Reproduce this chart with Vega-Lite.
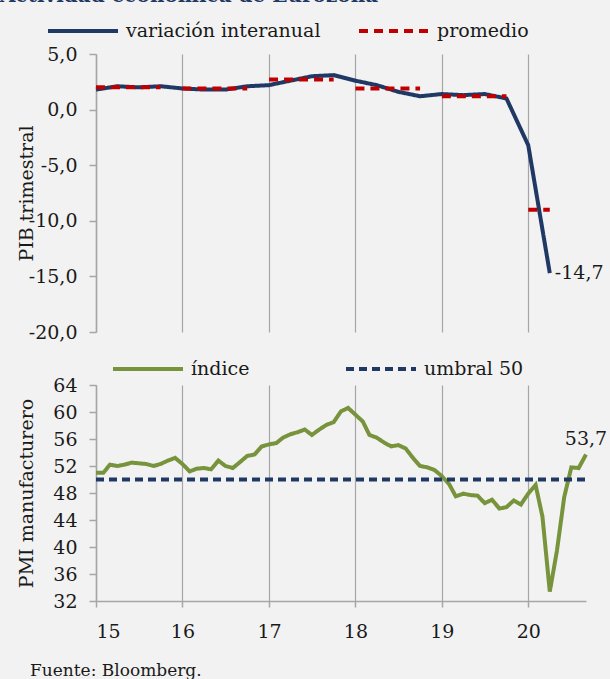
{
  "$schema": "https://vega.github.io/schema/vega-lite/v6.json",
  "background": "#f2f2f2",
  "padding": {"left": 0, "top": -14, "right": 5, "bottom": 0},
  "bounds": "flush",
  "spacing": 53,
  "title": {"text": "Actividad económica de Eurozona", "anchor": "start", "frame": "bounds", "font": "DejaVu Serif", "fontSize": 20, "fontWeight": "bold", "color": "#1f3864", "offset": -12, "dx": -17},
  "config": {
    "locale": {"number": {"decimal": ",", "thousands": ".", "grouping": [3], "currency": ["", " €"], "minus": "-"}},
    "font": "DejaVu Serif",
    "view": {"stroke": null},
    "axis": {"labelFont": "DejaVu Serif", "titleFont": "DejaVu Serif", "labelFontSize": 19, "titleFontSize": 19, "labelColor": "#1a1a1a", "titleColor": "#1a1a1a", "titleFontWeight": "normal", "domainColor": "#a6a6a6", "tickColor": "#a6a6a6", "gridColor": "#a6a6a6", "domainWidth": 1.5, "tickWidth": 1.5, "gridWidth": 1.2},
    "legend": {"labelFont": "DejaVu Serif", "labelFontSize": 19, "labelColor": "#1a1a1a", "labelLimit": 400}
  },
  "vconcat": [
    {
      "width": 490,
      "height": 278,
      "layer": [
        {
          "data": {"values": [
            {"date": "2015-01-01", "value": 1.8, "series": "variación interanual", "grp": "v"},
            {"date": "2015-04-01", "value": 2.1, "series": "variación interanual", "grp": "v"},
            {"date": "2015-07-01", "value": 2.0, "series": "variación interanual", "grp": "v"},
            {"date": "2015-10-01", "value": 2.1, "series": "variación interanual", "grp": "v"},
            {"date": "2016-01-01", "value": 1.9, "series": "variación interanual", "grp": "v"},
            {"date": "2016-04-01", "value": 1.8, "series": "variación interanual", "grp": "v"},
            {"date": "2016-07-01", "value": 1.8, "series": "variación interanual", "grp": "v"},
            {"date": "2016-10-01", "value": 2.1, "series": "variación interanual", "grp": "v"},
            {"date": "2017-01-01", "value": 2.2, "series": "variación interanual", "grp": "v"},
            {"date": "2017-04-01", "value": 2.6, "series": "variación interanual", "grp": "v"},
            {"date": "2017-07-01", "value": 3.0, "series": "variación interanual", "grp": "v"},
            {"date": "2017-10-01", "value": 3.1, "series": "variación interanual", "grp": "v"},
            {"date": "2018-01-01", "value": 2.6, "series": "variación interanual", "grp": "v"},
            {"date": "2018-04-01", "value": 2.2, "series": "variación interanual", "grp": "v"},
            {"date": "2018-07-01", "value": 1.6, "series": "variación interanual", "grp": "v"},
            {"date": "2018-10-01", "value": 1.2, "series": "variación interanual", "grp": "v"},
            {"date": "2019-01-01", "value": 1.4, "series": "variación interanual", "grp": "v"},
            {"date": "2019-04-01", "value": 1.3, "series": "variación interanual", "grp": "v"},
            {"date": "2019-07-01", "value": 1.4, "series": "variación interanual", "grp": "v"},
            {"date": "2019-10-01", "value": 1.0, "series": "variación interanual", "grp": "v"},
            {"date": "2020-01-01", "value": -3.2, "series": "variación interanual", "grp": "v"},
            {"date": "2020-04-01", "value": -14.7, "series": "variación interanual", "grp": "v"},
            {"date": "2015-01-01", "value": 2.0, "series": "promedio", "grp": "p2015"},
            {"date": "2015-10-01", "value": 2.0, "series": "promedio", "grp": "p2015"},
            {"date": "2016-01-01", "value": 1.9, "series": "promedio", "grp": "p2016"},
            {"date": "2016-10-01", "value": 1.9, "series": "promedio", "grp": "p2016"},
            {"date": "2017-01-01", "value": 2.7, "series": "promedio", "grp": "p2017"},
            {"date": "2017-10-01", "value": 2.7, "series": "promedio", "grp": "p2017"},
            {"date": "2018-01-01", "value": 1.9, "series": "promedio", "grp": "p2018"},
            {"date": "2018-10-01", "value": 1.9, "series": "promedio", "grp": "p2018"},
            {"date": "2019-01-01", "value": 1.2, "series": "promedio", "grp": "p2019"},
            {"date": "2019-10-01", "value": 1.2, "series": "promedio", "grp": "p2019"},
            {"date": "2020-01-01", "value": -9.0, "series": "promedio", "grp": "p2020"},
            {"date": "2020-04-01", "value": -9.0, "series": "promedio", "grp": "p2020"}
          ]},
          "mark": {"type": "line", "strokeWidth": 4},
          "encoding": {
            "x": {"field": "date", "type": "temporal",
                  "scale": {"type": "utc", "domain": [{"year": 2015, "month": 1, "date": 1, "utc": true}, {"year": 2020, "month": 9, "date": 1, "utc": true}]},
                  "axis": {"title": null, "labels": false, "ticks": false, "domain": false, "grid": true, "tickCount": {"interval": "year", "step": 1}}},
            "y": {"field": "value", "type": "quantitative",
                  "scale": {"domain": [-20, 5], "nice": false, "zero": false},
                  "axis": {"title": "PIB trimestral", "values": [-20, -15, -10, -5, 0, 5], "format": ".1f", "grid": false, "tickSize": 7, "labelPadding": 12, "labelOverlap": false, "labelSeparation": -12, "titleX": -70, "titleBaseline": "middle", "titleAngle": 270}},
            "color": {"field": "series", "type": "nominal",
                      "scale": {"domain": ["variación interanual", "promedio"], "range": ["#1f3864", "#c00000"]},
                      "legend": {"title": null, "orient": "none", "legendX": -50, "legendY": -60, "direction": "horizontal", "symbolType": "stroke", "symbolSize": 4900, "symbolStrokeWidth": 4, "labelOffset": 6, "columnPadding": 30}},
            "strokeDash": {"field": "series", "type": "nominal",
                      "scale": {"domain": ["variación interanual", "promedio"], "range": [[1, 0], [9, 6]]},
                      "legend": {"title": null, "orient": "none", "legendX": -50, "legendY": -60, "direction": "horizontal", "symbolType": "stroke", "symbolSize": 4900, "symbolStrokeWidth": 4, "labelOffset": 6, "columnPadding": 30}},
            "detail": {"field": "grp"}
          }
        },
        {
          "data": {"values": [{"date": "2020-04-01", "value": -14.7}]},
          "mark": {"type": "text", "align": "left", "baseline": "middle", "dx": 5, "fontSize": 19, "color": "#1a1a1a"},
          "encoding": {
            "x": {"field": "date", "type": "temporal"},
            "y": {"field": "value", "type": "quantitative"},
            "text": {"field": "value", "type": "quantitative", "format": ".1f"}
          }
        }
      ]
    },
    {
      "width": 490,
      "height": 216,
      "title": {"text": "Fuente: Bloomberg.", "orient": "bottom", "anchor": "start", "frame": "group", "fontSize": 17, "fontWeight": "normal", "font": "DejaVu Serif", "color": "#1a1a1a", "dx": -66, "offset": 22},
      "layer": [
        {
          "data": {"values": [
            {"date": "2015-01-01", "value": 51.0, "series": "índice"},
            {"date": "2015-02-01", "value": 51.0, "series": "índice"},
            {"date": "2015-03-01", "value": 52.2, "series": "índice"},
            {"date": "2015-04-01", "value": 52.0, "series": "índice"},
            {"date": "2015-05-01", "value": 52.2, "series": "índice"},
            {"date": "2015-06-01", "value": 52.5, "series": "índice"},
            {"date": "2015-07-01", "value": 52.4, "series": "índice"},
            {"date": "2015-08-01", "value": 52.3, "series": "índice"},
            {"date": "2015-09-01", "value": 52.0, "series": "índice"},
            {"date": "2015-10-01", "value": 52.3, "series": "índice"},
            {"date": "2015-11-01", "value": 52.8, "series": "índice"},
            {"date": "2015-12-01", "value": 53.2, "series": "índice"},
            {"date": "2016-01-01", "value": 52.3, "series": "índice"},
            {"date": "2016-02-01", "value": 51.2, "series": "índice"},
            {"date": "2016-03-01", "value": 51.6, "series": "índice"},
            {"date": "2016-04-01", "value": 51.7, "series": "índice"},
            {"date": "2016-05-01", "value": 51.5, "series": "índice"},
            {"date": "2016-06-01", "value": 52.8, "series": "índice"},
            {"date": "2016-07-01", "value": 52.0, "series": "índice"},
            {"date": "2016-08-01", "value": 51.7, "series": "índice"},
            {"date": "2016-09-01", "value": 52.6, "series": "índice"},
            {"date": "2016-10-01", "value": 53.5, "series": "índice"},
            {"date": "2016-11-01", "value": 53.7, "series": "índice"},
            {"date": "2016-12-01", "value": 54.9, "series": "índice"},
            {"date": "2017-01-01", "value": 55.2, "series": "índice"},
            {"date": "2017-02-01", "value": 55.4, "series": "índice"},
            {"date": "2017-03-01", "value": 56.2, "series": "índice"},
            {"date": "2017-04-01", "value": 56.7, "series": "índice"},
            {"date": "2017-05-01", "value": 57.0, "series": "índice"},
            {"date": "2017-06-01", "value": 57.4, "series": "índice"},
            {"date": "2017-07-01", "value": 56.6, "series": "índice"},
            {"date": "2017-08-01", "value": 57.4, "series": "índice"},
            {"date": "2017-09-01", "value": 58.1, "series": "índice"},
            {"date": "2017-10-01", "value": 58.5, "series": "índice"},
            {"date": "2017-11-01", "value": 60.1, "series": "índice"},
            {"date": "2017-12-01", "value": 60.6, "series": "índice"},
            {"date": "2018-01-01", "value": 59.6, "series": "índice"},
            {"date": "2018-02-01", "value": 58.6, "series": "índice"},
            {"date": "2018-03-01", "value": 56.6, "series": "índice"},
            {"date": "2018-04-01", "value": 56.2, "series": "índice"},
            {"date": "2018-05-01", "value": 55.5, "series": "índice"},
            {"date": "2018-06-01", "value": 54.9, "series": "índice"},
            {"date": "2018-07-01", "value": 55.1, "series": "índice"},
            {"date": "2018-08-01", "value": 54.6, "series": "índice"},
            {"date": "2018-09-01", "value": 53.2, "series": "índice"},
            {"date": "2018-10-01", "value": 52.0, "series": "índice"},
            {"date": "2018-11-01", "value": 51.8, "series": "índice"},
            {"date": "2018-12-01", "value": 51.4, "series": "índice"},
            {"date": "2019-01-01", "value": 50.5, "series": "índice"},
            {"date": "2019-02-01", "value": 49.3, "series": "índice"},
            {"date": "2019-03-01", "value": 47.5, "series": "índice"},
            {"date": "2019-04-01", "value": 47.9, "series": "índice"},
            {"date": "2019-05-01", "value": 47.7, "series": "índice"},
            {"date": "2019-06-01", "value": 47.6, "series": "índice"},
            {"date": "2019-07-01", "value": 46.5, "series": "índice"},
            {"date": "2019-08-01", "value": 47.0, "series": "índice"},
            {"date": "2019-09-01", "value": 45.7, "series": "índice"},
            {"date": "2019-10-01", "value": 45.9, "series": "índice"},
            {"date": "2019-11-01", "value": 46.9, "series": "índice"},
            {"date": "2019-12-01", "value": 46.3, "series": "índice"},
            {"date": "2020-01-01", "value": 47.9, "series": "índice"},
            {"date": "2020-02-01", "value": 49.2, "series": "índice"},
            {"date": "2020-03-01", "value": 44.5, "series": "índice"},
            {"date": "2020-04-01", "value": 33.4, "series": "índice"},
            {"date": "2020-05-01", "value": 39.4, "series": "índice"},
            {"date": "2020-06-01", "value": 47.4, "series": "índice"},
            {"date": "2020-07-01", "value": 51.8, "series": "índice"},
            {"date": "2020-08-01", "value": 51.7, "series": "índice"},
            {"date": "2020-09-01", "value": 53.7, "series": "índice"},
            {"date": "2015-01-01", "value": 50, "series": "umbral 50"},
            {"date": "2020-09-01", "value": 50, "series": "umbral 50"}
          ]},
          "mark": {"type": "line", "strokeWidth": 4},
          "encoding": {
            "x": {"field": "date", "type": "temporal",
                  "scale": {"type": "utc", "domain": [{"year": 2015, "month": 1, "date": 1, "utc": true}, {"year": 2020, "month": 9, "date": 1, "utc": true}]},
                  "axis": {"title": null, "format": "%y", "grid": true, "tickCount": {"interval": "year", "step": 1}, "tickSize": 6, "labelPadding": 15}},
            "y": {"field": "value", "type": "quantitative",
                  "scale": {"domain": [32, 64], "nice": false, "zero": false},
                  "axis": {"title": "PMI manufacturero", "values": [32, 36, 40, 44, 48, 52, 56, 60, 64], "format": "d", "grid": false, "tickSize": 7, "labelPadding": 12, "labelOverlap": false, "labelSeparation": -12, "titleX": -70, "titleBaseline": "middle", "titleAngle": 270}},
            "color": {"field": "series", "type": "nominal",
                      "scale": {"domain": ["índice", "umbral 50"], "range": ["#77933c", "#1f3864"]},
                      "legend": {"title": null, "orient": "none", "legendX": 15, "legendY": -53, "direction": "horizontal", "symbolType": "stroke", "symbolSize": 4900, "symbolStrokeWidth": 4, "labelOffset": 6, "columnPadding": 88}},
            "strokeDash": {"field": "series", "type": "nominal",
                      "scale": {"domain": ["índice", "umbral 50"], "range": [[1, 0], [8, 5]]},
                      "legend": {"title": null, "orient": "none", "legendX": 15, "legendY": -53, "direction": "horizontal", "symbolType": "stroke", "symbolSize": 4900, "symbolStrokeWidth": 4, "labelOffset": 6, "columnPadding": 88}}
          }
        },
        {
          "data": {"values": [{"date": "2020-09-01", "value": 53.7}]},
          "mark": {"type": "text", "align": "center", "baseline": "bottom", "dy": -6, "fontSize": 19, "color": "#1a1a1a"},
          "encoding": {
            "x": {"field": "date", "type": "temporal"},
            "y": {"field": "value", "type": "quantitative", "axis": {"title": "PMI manufacturero", "values": [32, 36, 40, 44, 48, 52, 56, 60, 64], "format": "d", "grid": false, "tickSize": 7, "labelPadding": 12, "labelOverlap": false, "labelSeparation": -12, "titleX": -70, "titleBaseline": "middle", "titleAngle": 270}},
            "text": {"field": "value", "type": "quantitative", "format": ".1f"}
          }
        }
      ]
    }
  ],
  "resolve": {"scale": {"color": "independent", "strokeDash": "independent"}, "legend": {"color": "independent", "strokeDash": "independent"}}
}
